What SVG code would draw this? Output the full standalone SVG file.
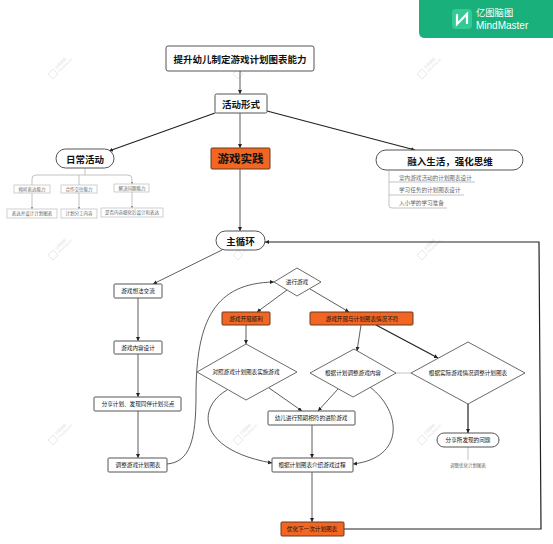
<svg xmlns="http://www.w3.org/2000/svg" width="553" height="544" viewBox="0 0 553 544">
<style>
text{font-family:"Liberation Sans","Noto Sans CJK SC",sans-serif;text-anchor:middle;dominant-baseline:central;fill:#111}
.b{fill:#fff;stroke:#555;stroke-width:1}
.o{fill:#f26522;stroke:#6b3a1e;stroke-width:1}
.d{fill:#fff;stroke:#444;stroke-width:.8}
.c{fill:none;stroke:#333;stroke-width:.8}
.t{fill:none;stroke:#222;stroke-width:1.200}
.l{fill:none;stroke:#aaa;stroke-width:.7}
.g{fill:#fff;stroke:#bbb;stroke-width:.7}
.s{font-size:5.600px}
.f{font-size:4.500px;fill:#666}
.r{font-size:5.600px;fill:#666;text-anchor:start}
.h9{font-size:9.500px;font-weight:bold}
.wt{font-size:3.500px;fill:#e4e4e4}
</style>
<defs>
<marker id="a" markerUnits="userSpaceOnUse" markerWidth="5" markerHeight="5" refX="4" refY="2" orient="auto"><path d="M0 0L4 2L0 4z" fill="#222"/></marker>
<marker id="h" markerUnits="userSpaceOnUse" markerWidth="4" markerHeight="4" refX="2.500" refY="1.500" orient="auto"><path d="M0 0L2.500 1.500L0 3z" fill="#888"/></marker>
<g id="wm">
<path d="M-5 0L0 -5L5 0L0 5z" fill="none" stroke="#e8e8e8" stroke-width="1"/>
<g transform="rotate(-45)"><text class="wt" x="13" y="-2">亿图脑图</text><text class="wt" x="15" y="2.500">MindMaster</text></g>
</g>
</defs>
<g id="watermarks">
<use href="#wm" x="53" y="74"/><use href="#wm" x="238" y="74"/><use href="#wm" x="422" y="74"/>
<use href="#wm" x="53" y="255"/><use href="#wm" x="238" y="255"/><use href="#wm" x="422" y="255"/>
<use href="#wm" x="53" y="440"/><use href="#wm" x="238" y="440"/><use href="#wm" x="422" y="440"/>
</g>
<g id="logo"><path d="M419 0H553V38H425Q419 38 419 32z" fill="#1ab07b"/>
<rect x="452" y="9" width="20" height="20" rx="4" fill="#35c995"/><path d="M457 14L457 24L467 14V24" fill="none" stroke="#fff" stroke-width="2.200"/>
<text x="476" y="13" style="fill:#fff;font-size:9.300px;text-anchor:start">亿图脑图</text><text x="476" y="25" style="fill:#fff;font-size:10px;text-anchor:start">MindMaster</text></g>
<g id="connectors">
<path class="c" d="M240 71V94" marker-end="url(#a)"/>
<path class="t" d="M215 113L109 151" marker-end="url(#a)"/>
<path class="c" d="M240 113V148" marker-end="url(#a)"/>
<path class="t" d="M267 111L415 150" marker-end="url(#a)"/>
<path class="c" d="M240 169V231" marker-end="url(#a)"/>
<path class="l" d="M85 168V175M85 175H36Q32 175 32 179V185M79 175V185M85 175H128Q132 175 132 179V184" marker-end="url(#h)"/>
<path class="l" d="M32 193V209" marker-end="url(#h)"/>
<path class="l" d="M79 193V209" marker-end="url(#h)"/>
<path class="l" d="M132 192V208" marker-end="url(#h)"/>
<path class="c" d="M222 250L153 284" marker-end="url(#a)"/>
<path class="c" d="M138 298V341" marker-end="url(#a)"/>
<path class="c" d="M138 354V397" marker-end="url(#a)"/>
<path class="c" d="M138 411V458" marker-end="url(#a)"/>
<path class="c" d="M167 464C190 462 196 440 196 395C196 320 215 283 274 282" marker-end="url(#a)"/>
<path class="c" d="M287 290L257 312" marker-end="url(#a)"/>
<path class="c" d="M310 289L349 312" marker-end="url(#a)"/>
<path class="c" d="M246 325V344" marker-end="url(#a)"/>
<path class="c" d="M361 325L357 351" marker-end="url(#a)"/>
<path class="t" d="M376 325L438 358" marker-end="url(#a)"/>
<path class="l" d="M396 373H411"/>
<path class="c" d="M227 390C196 408 198 450 272 463" marker-end="url(#a)"/>
<path class="c" d="M269 388L302 411" marker-end="url(#a)"/>
<path class="c" d="M338 389L318 411" marker-end="url(#a)"/>
<path class="c" d="M370 387C402 412 405 458 353 464" marker-end="url(#a)"/>
<path class="c" d="M312 425V458" marker-end="url(#a)"/>
<path class="c" d="M312 472V522" marker-end="url(#a)"/>
<path class="t" d="M468 404V433" marker-end="url(#a)"/>
<path class="l" d="M468 447V460"/>
<path class="t" d="M344 529H541L539 242H265" marker-end="url(#a)"/>
</g>
<g id="n1"><rect class="b" x="166" y="46" width="148" height="25" rx="2"/><text class="h9" x="240" y="59">提升幼儿制定游戏计划图表能力</text></g>
<g id="n2"><rect class="b" x="215" y="94" width="52" height="19" rx="1.500"/><text class="h9" x="241" y="104">活动形式</text></g>
<g id="n3"><rect class="b" x="56" y="149" width="58" height="19" rx="9.500"/><text class="h9" x="85" y="159">日常活动</text></g>
<g id="n4"><rect class="o" x="211" y="148" width="59" height="21" rx="1"/><text x="240.500" y="159" style="font-size:11.500px;font-weight:bold">游戏实践</text></g>
<g id="n5"><rect class="b" x="376" y="150" width="147" height="20" rx="10"/><text class="h9" x="450" y="161">融入生活，强化思维</text></g>
<g id="n6"><rect class="g" x="14" y="185" width="36" height="8"/><text class="f" x="32" y="189">倾听表达能力</text></g>
<g id="n7"><rect class="g" x="61" y="185" width="36" height="8"/><text class="f" x="79" y="189">合作交往能力</text></g>
<g id="n8"><rect class="g" x="114" y="184" width="35" height="8"/><text class="f" x="132" y="188">解决问题能力</text></g>
<g id="n9"><rect class="g" x="7" y="209" width="50" height="9"/><text class="f" x="32" y="213.500">表达并设计计划图表</text></g>
<g id="n10"><rect class="g" x="61" y="209" width="36" height="9"/><text class="f" x="79" y="213.500">计划分工内容</text></g>
<g id="n11"><rect class="g" x="101" y="208" width="62" height="9"/><text class="f" x="132" y="212.500">是否内容细化后设计和表达</text></g>
<g id="n12">
<path class="l" d="M389 170V205Q389 208 392 208H447M389 182H475M389 195H464"/>
<text class="r" x="399" y="178">室内游戏活动的计划图表设计</text><text class="r" x="399" y="190">学习任务的计划图表设计</text><text class="r" x="399" y="203">入小学的学习准备</text>
</g>
<g id="n13"><rect class="b" x="216" y="231" width="49" height="19" rx="9.500"/><text class="h9" x="240.500" y="241">主循环</text></g>
<g id="n14"><rect class="b" x="114" y="284" width="48" height="14" rx="1"/><text class="s" x="138" y="291">游戏想法交流</text></g>
<g id="n15"><rect class="b" x="114" y="341" width="48" height="13" rx="1"/><text class="s" x="138" y="347.500">游戏内容设计</text></g>
<g id="n16"><rect class="b" x="94" y="397" width="87" height="14" rx="1"/><text class="s" x="138" y="404">分享计划、发现同伴计划亮点</text></g>
<g id="n17"><rect class="b" x="108" y="458" width="59" height="14" rx="1"/><text class="s" x="138" y="465">调整游戏计划图表</text></g>
<g id="n18"><path class="d" d="M297 268L321 282L297 296L274 282z"/><text class="s" x="297" y="282">进行游戏</text></g>
<g id="n19"><rect class="o" x="222" y="312" width="48" height="13" rx="1"/><text class="s" x="246" y="318.500">游戏开展顺利</text></g>
<g id="n20"><rect class="o" x="310" y="312" width="103" height="13" rx="1"/><text class="s" x="362" y="318.500">游戏开展与计划图表情况不符</text></g>
<g id="n21"><path class="d" d="M246 344L297 372L246 400L197 372z"/><text class="s" x="246" y="372">对照游戏计划图表实施游戏</text></g>
<g id="n22"><path class="d" d="M354 349L396 373L353 397L310 373z"/><text class="s" x="353" y="373">根据计划调整游戏内容</text></g>
<g id="n23"><path class="d" d="M468 342L525 373L468 404L411 373z"/><text class="s" x="468" y="373">根据实际游戏情况调整计划图表</text></g>
<g id="n24"><rect class="b" x="268" y="411" width="87" height="14" rx="1"/><text class="s" x="311" y="418">幼儿进行预期相符的进阶游戏</text></g>
<g id="n25"><rect class="b" x="272" y="458" width="81" height="14" rx="1"/><text class="s" x="312" y="465">根据计划图表介绍游戏过程</text></g>
<g id="n26"><rect class="o" x="281" y="522" width="63" height="14" rx="1"/><text class="s" x="312" y="529">优化下一次计划图表</text></g>
<g id="n27"><rect class="b" x="437" y="433" width="62" height="14" rx="7"/><text class="s" x="468" y="440">分享所发现的问题</text></g>
<g id="n28"><text class="f" x="468" y="465">调整优化计划图表</text></g>
</svg>
